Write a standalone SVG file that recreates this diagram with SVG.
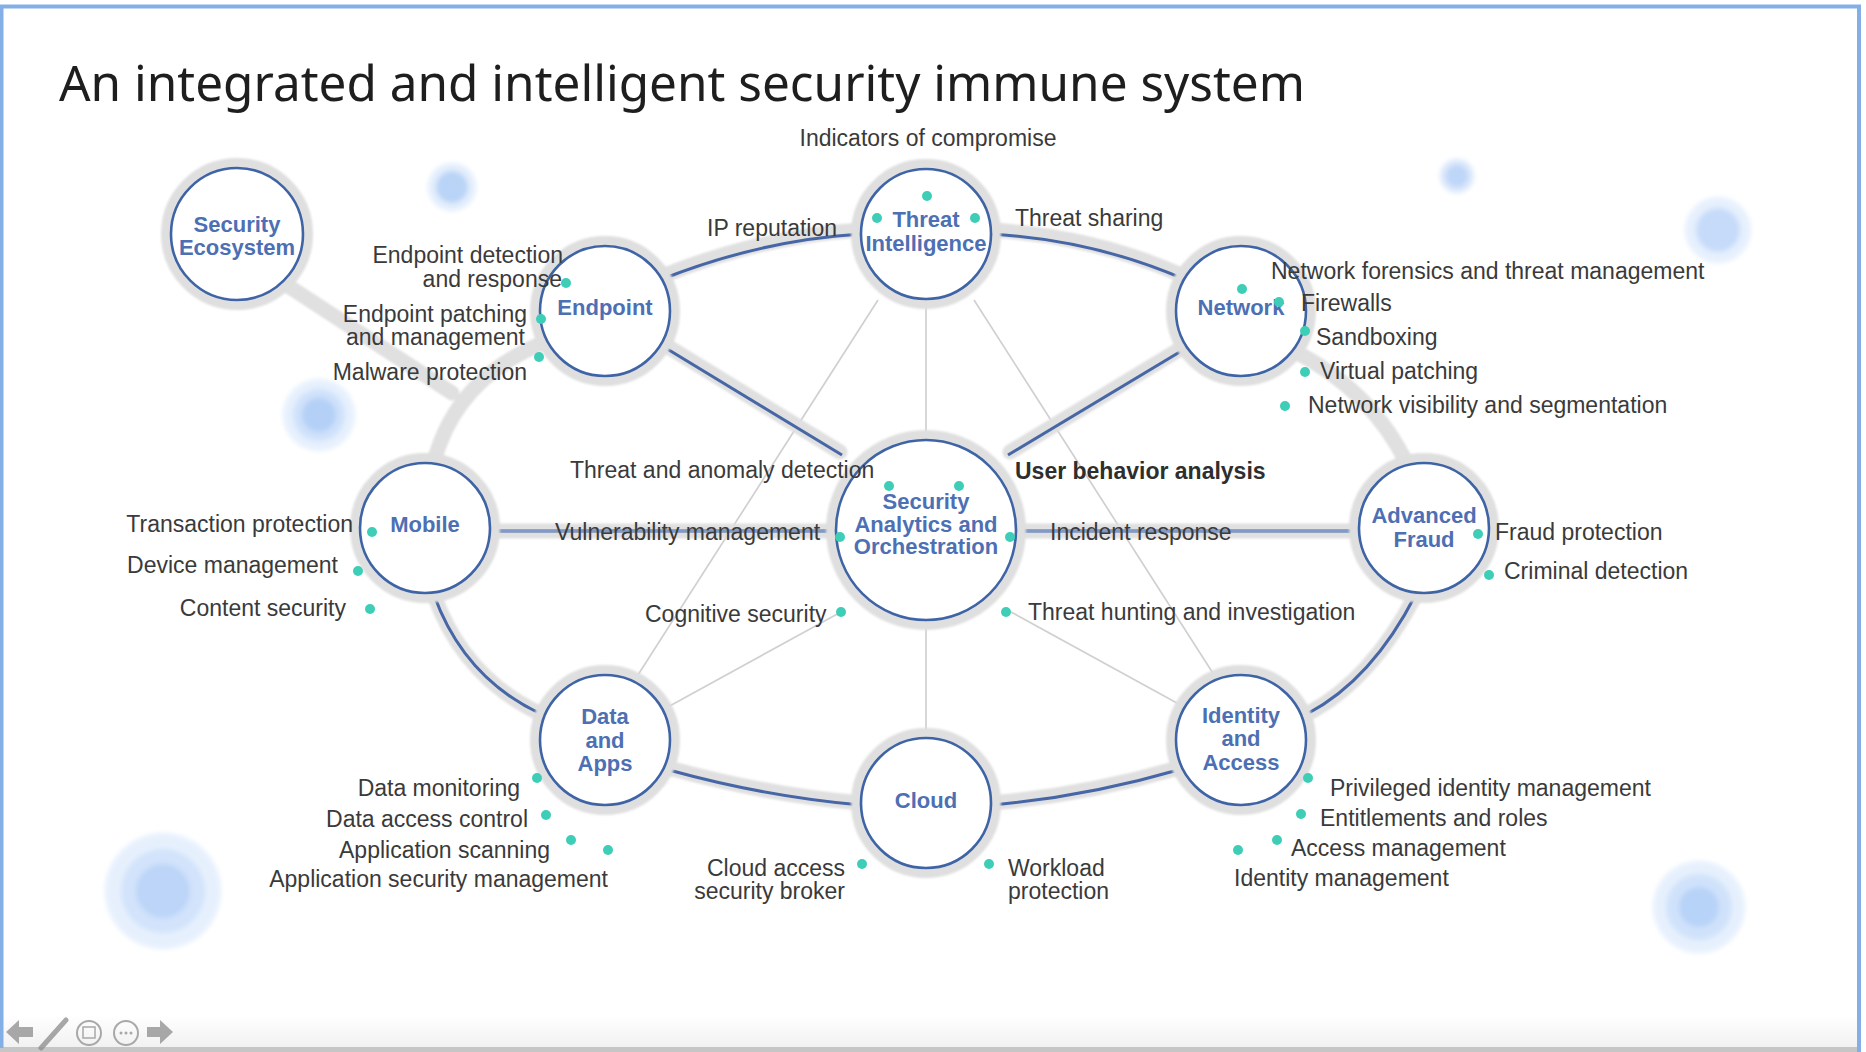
<svg xmlns="http://www.w3.org/2000/svg" width="1866" height="1052" viewBox="0 0 1866 1052">
  <style>
    .t { font-family: "Liberation Sans", Arial, sans-serif; font-size: 23px; fill: #3a3a3a; }
    .tb { font-weight: bold; fill: #2e2e2e; }
    .lbl { font-family: "Liberation Sans", Arial, sans-serif; font-size: 22px; font-weight: bold; fill: #4d6fb3; text-anchor: middle; }
    .end { text-anchor: end; }
    .mid { text-anchor: middle; }
    .halo { fill: none; stroke: #dfdfdf; stroke-width: 10; }
    .ring { fill: #ffffff; stroke: #3f64a6; stroke-width: 2.6; }
    .band { fill: none; stroke: #e0e0e0; stroke-width: 15; stroke-linecap: round; }
    .wire { fill: none; stroke: #4666a6; stroke-width: 3; }
    .wire-in { fill: none; stroke: #b9cbe9; stroke-width: 1.2; }
    .spoke { fill: none; stroke: #d0d0d0; stroke-width: 1.7; }
    .dot { fill: #3ecdb6; }
    .tool { fill: #8c8c8c; opacity: 0.75; }
  </style>
  <defs>
    <filter id="soft" x="-20%" y="-20%" width="140%" height="140%">
      <feGaussianBlur stdDeviation="1.2"/>
    </filter>
    <filter id="glow" x="-50%" y="-50%" width="200%" height="200%">
      <feGaussianBlur stdDeviation="2.5"/>
    </filter>
    <linearGradient id="foot" x1="0" y1="0" x2="0" y2="1">
      <stop offset="0" stop-color="#ffffff"/>
      <stop offset="1" stop-color="#f1f1f1"/>
    </linearGradient>
  </defs>

  <!-- slide background and frame -->
  <rect x="0" y="0" width="1866" height="1052" fill="#ffffff"/>
  <rect x="0" y="1015" width="1859" height="33" fill="url(#foot)"/>
  <rect x="0" y="1047" width="1859" height="5" fill="#c6c6c6"/>
  <path d="M1.5 1048 V6.5 H1859 V1052" fill="none" stroke="#84aee6" stroke-width="4"/>

  <!-- title -->
  <text x="59" y="101" font-family="'Noto Sans', 'Open Sans', sans-serif" font-size="50" fill="#1e1e1e" textLength="1246" lengthAdjust="spacingAndGlyphs">An integrated and intelligent security immune system</text>

  <!-- background bubbles -->
  <g id="bubbles" filter="url(#glow)">
    <circle cx="452" cy="187" r="24" fill="#e3eefc"/>
    <circle cx="452" cy="187" r="16" fill="#b9d4f7"/>
    <circle cx="319" cy="415" r="36" fill="#e6f0fd"/>
    <circle cx="319" cy="415" r="26" fill="#cfe1fa"/>
    <circle cx="319" cy="415" r="17" fill="#b4d0f7"/>
    <circle cx="163" cy="891" r="58" fill="#e6f0fd"/>
    <circle cx="163" cy="891" r="42" fill="#d2e3fb"/>
    <circle cx="163" cy="891" r="27" fill="#bcd5f8"/>
    <circle cx="1457" cy="176" r="17" fill="#dbe8fb"/>
    <circle cx="1457" cy="176" r="11" fill="#bed6f8"/>
    <circle cx="1718" cy="230" r="33" fill="#e6f0fd"/>
    <circle cx="1718" cy="230" r="22" fill="#c6dbf9"/>
    <circle cx="1699" cy="907" r="46" fill="#e6f0fd"/>
    <circle cx="1699" cy="907" r="33" fill="#d0e2fb"/>
    <circle cx="1699" cy="907" r="20" fill="#b8d3f8"/>
  </g>

  <!-- connectors -->
  <g id="connectors">
    <!-- thin spokes -->
    <line class="spoke" x1="926" y1="299" x2="926" y2="440"/>
    <line class="spoke" x1="926" y1="620" x2="926" y2="738"/>
    <line class="spoke" x1="878" y1="300" x2="636" y2="678"/>
    <line class="spoke" x1="974" y1="300" x2="1216" y2="678"/>
    <line class="spoke" x1="841" y1="612" x2="666" y2="708"/>
    <line class="spoke" x1="1011" y1="612" x2="1186" y2="708"/>

    <!-- grey bands -->
    <g filter="url(#soft)">
      <path class="band" d="M282 282 L452 393"/>
      <path class="band" d="M434 462 Q456 378 545 342"/>
      <path class="band" d="M1292 350 Q1372 390 1408 466"/>
      <path class="band" d="M660 277 Q760 236 862 230"/>
      <path class="band" d="M990 230 Q1095 236 1186 277"/>
      <path class="band" d="M662 343 L840 452"/>
      <path class="band" d="M1190 343 L1010 452"/>
      <path class="band" d="M490 531 L836 531"/>
      <path class="band" d="M1016 531 L1359 531"/>
      <path class="band" d="M434 595 Q464 678 541 714"/>
      <path class="band" d="M669 768 Q767 795 861 803"/>
      <path class="band" d="M991 803 Q1085 795 1178 768"/>
      <path class="band" d="M1307 714 Q1372 680 1416 594"/>
    </g>

    <!-- blue links -->
    <path class="wire" d="M660 280 Q760 240 862 234"/>
    <path class="wire" d="M990 234 Q1095 240 1186 280"/>
    <path class="wire" d="M664 347 L842 455"/>
    <path class="wire" d="M1188 347 L1008 455"/>
    <path class="wire" d="M434 595 Q464 678 541 714"/>
    <path class="wire" d="M669 770 Q767 797 861 805"/>
    <path class="wire" d="M991 805 Q1085 797 1178 770"/>
    <path class="wire" d="M1307 714 Q1372 680 1416 594"/>
    <path class="wire" d="M490 531 L836 531" stroke-width="5"/>
    <path class="wire-in" d="M490 531 L836 531"/>
    <path class="wire" d="M1016 531 L1359 531" stroke-width="5"/>
    <path class="wire-in" d="M1016 531 L1359 531"/>
  </g>

  <!-- nodes -->
  <g id="node-security-ecosystem">
    <circle class="halo" cx="237" cy="234" r="71" filter="url(#soft)"/>
    <circle class="ring" cx="237" cy="234" r="66"/>
    <text class="lbl" x="237" y="232">Security</text>
    <text class="lbl" x="237" y="255">Ecosystem</text>
  </g>

  <g id="node-endpoint">
    <circle class="halo" cx="605" cy="311" r="70" filter="url(#soft)"/>
    <circle class="ring" cx="605" cy="311" r="65"/>
    <text class="lbl" x="605" y="315">Endpoint</text>
    <text class="t end" x="563" y="263">Endpoint detection</text>
    <text class="t end" x="562" y="287">and response</text>
    <text class="t end" x="527" y="322">Endpoint patching</text>
    <text class="t end" x="525" y="345">and management</text>
    <text class="t end" x="527" y="380">Malware protection</text>
    <circle class="dot" cx="566" cy="283" r="5"/>
    <circle class="dot" cx="541" cy="319" r="5"/>
    <circle class="dot" cx="539" cy="357" r="5"/>
  </g>

  <g id="node-threat-intelligence">
    <circle class="halo" cx="926" cy="234" r="70" filter="url(#soft)"/>
    <circle class="ring" cx="926" cy="234" r="65"/>
    <text class="lbl" x="926" y="227">Threat</text>
    <text class="lbl" x="926" y="251">Intelligence</text>
    <text class="t mid" x="928" y="146">Indicators of compromise</text>
    <text class="t" x="707" y="236">IP reputation</text>
    <text class="t" x="1015" y="226">Threat sharing</text>
    <circle class="dot" cx="927" cy="196" r="5"/>
    <circle class="dot" cx="877" cy="218" r="5"/>
    <circle class="dot" cx="975" cy="218" r="5"/>
  </g>

  <g id="node-network">
    <circle class="halo" cx="1241" cy="311" r="70" filter="url(#soft)"/>
    <circle class="ring" cx="1241" cy="311" r="65"/>
    <text class="lbl" x="1241" y="315">Network</text>
    <text class="t" x="1271" y="279">Network forensics and threat management</text>
    <text class="t" x="1301" y="311">Firewalls</text>
    <text class="t" x="1316" y="345">Sandboxing</text>
    <text class="t" x="1320" y="379">Virtual patching</text>
    <text class="t" x="1308" y="413">Network visibility and segmentation</text>
    <circle class="dot" cx="1242" cy="289" r="5"/>
    <circle class="dot" cx="1279" cy="302" r="5"/>
    <circle class="dot" cx="1305" cy="331" r="5"/>
    <circle class="dot" cx="1305" cy="372" r="5"/>
    <circle class="dot" cx="1285" cy="406" r="5"/>
  </g>

  <g id="node-mobile">
    <circle class="halo" cx="425" cy="528" r="70" filter="url(#soft)"/>
    <circle class="ring" cx="425" cy="528" r="65"/>
    <text class="lbl" x="425" y="532">Mobile</text>
    <text class="t end" x="353" y="532">Transaction protection</text>
    <text class="t end" x="338" y="573">Device management</text>
    <text class="t end" x="346" y="616">Content security</text>
    <circle class="dot" cx="372" cy="532" r="5"/>
    <circle class="dot" cx="358" cy="571" r="5"/>
    <circle class="dot" cx="370" cy="609" r="5"/>
  </g>

  <g id="node-security-analytics">
    <circle class="halo" cx="926" cy="530" r="95" filter="url(#soft)"/>
    <circle class="ring" cx="926" cy="530" r="90"/>
    <text class="lbl" x="926" y="509">Security</text>
    <text class="lbl" x="926" y="532">Analytics and</text>
    <text class="lbl" x="926" y="554">Orchestration</text>
    <text class="t" x="570" y="478">Threat and anomaly detection</text>
    <text class="t tb" x="1015" y="479">User behavior analysis</text>
    <text class="t" x="555" y="540">Vulnerability management</text>
    <text class="t" x="1050" y="540">Incident response</text>
    <text class="t" x="645" y="622">Cognitive security</text>
    <text class="t" x="1028" y="620">Threat hunting and investigation</text>
    <circle class="dot" cx="889" cy="486" r="5"/>
    <circle class="dot" cx="959" cy="486" r="5"/>
    <circle class="dot" cx="840" cy="537" r="5"/>
    <circle class="dot" cx="1010" cy="537" r="5"/>
    <circle class="dot" cx="841" cy="612" r="5"/>
    <circle class="dot" cx="1006" cy="612" r="5"/>
  </g>

  <g id="node-advanced-fraud">
    <circle class="halo" cx="1424" cy="528" r="70" filter="url(#soft)"/>
    <circle class="ring" cx="1424" cy="528" r="65"/>
    <text class="lbl" x="1424" y="523">Advanced</text>
    <text class="lbl" x="1424" y="547">Fraud</text>
    <text class="t" x="1495" y="540">Fraud protection</text>
    <text class="t" x="1504" y="579">Criminal detection</text>
    <circle class="dot" cx="1478" cy="534" r="5"/>
    <circle class="dot" cx="1489" cy="575" r="5"/>
  </g>

  <g id="node-data-apps">
    <circle class="halo" cx="605" cy="740" r="70" filter="url(#soft)"/>
    <circle class="ring" cx="605" cy="740" r="65"/>
    <text class="lbl" x="605" y="724">Data</text>
    <text class="lbl" x="605" y="748">and</text>
    <text class="lbl" x="605" y="771">Apps</text>
    <text class="t end" x="520" y="796">Data monitoring</text>
    <text class="t end" x="528" y="827">Data access control</text>
    <text class="t end" x="550" y="858">Application scanning</text>
    <text class="t end" x="608" y="887">Application security management</text>
    <circle class="dot" cx="537" cy="778" r="5"/>
    <circle class="dot" cx="546" cy="815" r="5"/>
    <circle class="dot" cx="571" cy="840" r="5"/>
    <circle class="dot" cx="608" cy="850" r="5"/>
  </g>

  <g id="node-cloud">
    <circle class="halo" cx="926" cy="803" r="70" filter="url(#soft)"/>
    <circle class="ring" cx="926" cy="803" r="65"/>
    <text class="lbl" x="926" y="808">Cloud</text>
    <text class="t end" x="845" y="876">Cloud access</text>
    <text class="t end" x="845" y="899">security broker</text>
    <text class="t" x="1008" y="876">Workload</text>
    <text class="t" x="1008" y="899">protection</text>
    <circle class="dot" cx="862" cy="864" r="5"/>
    <circle class="dot" cx="989" cy="864" r="5"/>
  </g>

  <g id="node-identity-access">
    <circle class="halo" cx="1241" cy="740" r="70" filter="url(#soft)"/>
    <circle class="ring" cx="1241" cy="740" r="65"/>
    <text class="lbl" x="1241" y="723">Identity</text>
    <text class="lbl" x="1241" y="746">and</text>
    <text class="lbl" x="1241" y="770">Access</text>
    <text class="t" x="1330" y="796">Privileged identity management</text>
    <text class="t" x="1320" y="826">Entitlements and roles</text>
    <text class="t" x="1291" y="856">Access management</text>
    <text class="t" x="1234" y="886">Identity management</text>
    <circle class="dot" cx="1308" cy="778" r="5"/>
    <circle class="dot" cx="1301" cy="814" r="5"/>
    <circle class="dot" cx="1277" cy="840" r="5"/>
    <circle class="dot" cx="1238" cy="850" r="5"/>
  </g>

  <!-- player controls -->
  <g id="controls">
    <path class="tool" d="M6 1032 L19 1020 L19 1027 L33 1027 L33 1037 L19 1037 L19 1044 Z"/>
    <path d="M41 1048 L66 1020" stroke="#8c8c8c" stroke-width="5" stroke-linecap="round" opacity="0.75"/>
    <circle cx="89" cy="1033" r="12" fill="none" stroke="#a8a8a8" stroke-width="2"/>
    <rect x="83" y="1027" width="12" height="11" fill="none" stroke="#a8a8a8" stroke-width="1.5"/>
    <circle cx="126" cy="1033" r="12" fill="none" stroke="#a8a8a8" stroke-width="2"/>
    <circle cx="121" cy="1033" r="1.5" fill="#a8a8a8"/>
    <circle cx="126" cy="1033" r="1.5" fill="#a8a8a8"/>
    <circle cx="131" cy="1033" r="1.5" fill="#a8a8a8"/>
    <path class="tool" d="M173 1032 L160 1020 L160 1027 L147 1027 L147 1037 L160 1037 L160 1044 Z"/>
  </g>
</svg>
